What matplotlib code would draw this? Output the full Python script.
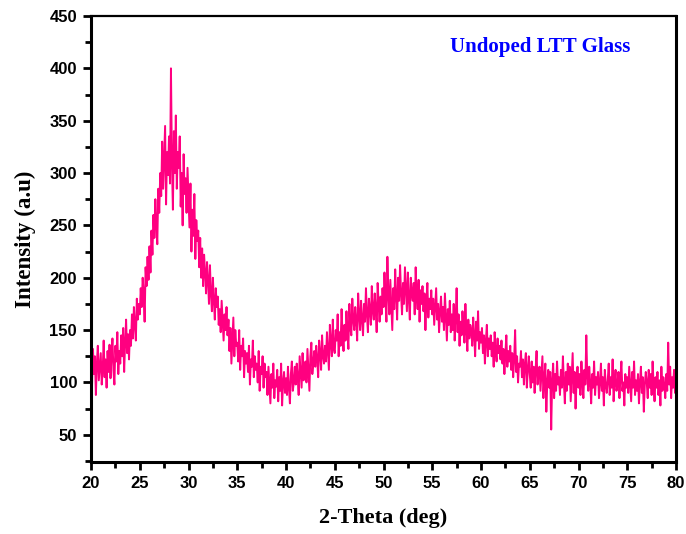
import matplotlib
matplotlib.use("Agg")
import matplotlib.pyplot as plt
import numpy as np
from matplotlib.ticker import MultipleLocator

# 2-theta grid, 0.1 deg steps from 20 to 80
two_theta = np.round(np.arange(20.0, 80.05, 0.1), 1)

# intensity, one row per degree
intensity = [
    120, 95, 132, 108, 125, 88, 118, 135, 102, 115,
    128, 98, 112, 140, 105, 122, 95, 130, 110, 136,
    104, 125, 142, 112, 98, 135, 120, 148, 108, 130,
    118, 145, 125, 152, 110, 138, 160, 128, 146, 122,
    150, 135, 165, 142, 172, 155, 140, 180, 160, 175,
    165, 190, 172, 200, 185, 158, 210, 192, 220, 198,
    230, 205, 245, 222, 260, 238, 275, 250, 232, 285,
    262, 300, 278, 330, 285, 315, 345, 270, 320, 298,
    335, 290, 400, 310, 265, 340, 300, 355, 285, 320,
    305, 335, 268, 300, 250, 318, 280, 295, 262, 305,
    275, 248, 290, 225, 265, 240, 280, 218, 255, 235,
    245, 210, 238, 200, 228, 192, 222, 205, 185, 215,
    198, 175, 212, 185, 168, 200, 178, 160, 190, 172,
    182, 155, 170, 148, 178, 160, 140, 165, 150, 172,
    145, 160, 130, 152, 118, 140, 162, 125, 150, 135,
    138, 120, 150, 112, 135, 125, 142, 105, 130, 118,
    128, 110, 135, 98, 122, 115, 140, 105, 125, 112,
    118, 100, 130, 92, 115, 108, 125, 95, 118, 105,
    110, 88, 115, 98, 80, 108, 95, 118, 85, 102,
    96, 112, 82, 105, 92, 118, 78, 100, 110, 90,
    104, 88, 115, 95, 80, 108, 120, 92, 100, 115,
    98, 118, 105, 88, 125, 110, 95, 128, 102, 115,
    120, 100, 132, 112, 92, 125, 138, 108, 118, 130,
    115, 135, 122, 105, 140, 128, 112, 145, 125, 118,
    135, 120, 148, 130, 112, 155, 138, 125, 160, 132,
    128, 150, 140, 165, 125, 148, 135, 170, 145, 130,
    155, 140, 168, 148, 132, 175, 152, 145, 180, 160,
    150, 172, 158, 140, 185, 165, 150, 178, 160, 145,
    175, 158, 190, 165, 148, 180, 170, 155, 192, 168,
    160, 185, 170, 148, 195, 175, 158, 182, 165, 190,
    172, 205, 180, 158, 220, 185, 165, 198, 175, 150,
    190, 170, 208, 182, 160, 200, 178, 212, 185, 165,
    195, 175, 210, 188, 168, 205, 180, 160, 200, 185,
    178, 195, 165, 210, 182, 170, 198, 158, 188, 175,
    192, 168, 185, 150, 178, 195, 162, 180, 170, 188,
    165, 180, 155, 172, 190, 160, 175, 148, 168, 182,
    158, 172, 150, 185, 162, 140, 170, 155, 178, 148,
    165, 150, 175, 140, 160, 190, 148, 165, 135, 158,
    145, 168, 152, 138, 175, 150, 130, 160, 142, 155,
    150, 135, 162, 145, 125, 158, 140, 168, 132, 148,
    138, 152, 128, 145, 118, 140, 155, 125, 142, 132,
    145, 125, 138, 115, 148, 130, 120, 142, 128, 135,
    122, 140, 118, 132, 108, 128, 145, 115, 130, 120,
    135, 112, 128, 105, 122, 150, 110, 125, 100, 118,
    115, 130, 105, 122, 98, 118, 128, 95, 112, 125,
    108, 95, 120, 100, 115, 90, 112, 130, 98, 110,
    115, 92, 108, 125, 85, 105, 118, 72, 100, 112,
    95, 110, 55, 102, 118, 85, 108, 92, 120, 98,
    105, 88, 112, 95, 125, 100, 80, 110, 92, 118,
    98, 115, 82, 105, 128, 90, 110, 75, 102, 115,
    95, 108, 88, 120, 100, 85, 112, 98, 145, 105,
    92, 115, 100, 80, 108, 95, 120, 88, 105, 98,
    110, 85, 100, 118, 92, 105, 78, 112, 98, 90,
    102, 118, 88, 105, 95, 122, 82, 100, 112, 92,
    98, 110, 85, 105, 120, 92, 100, 78, 108, 95,
    105, 90, 115, 98, 82, 110, 95, 120, 88, 102,
    92, 108, 80, 100, 115, 90, 105, 72, 98, 110,
    100, 85, 112, 95, 108, 88, 120, 98, 82, 105,
    95, 110, 88, 102, 78, 115, 92, 105, 98, 85,
    108, 92, 138, 98, 115, 85, 105, 95, 112, 90,
    100,
]

sample_label = "Undoped LTT Glass"

fig = plt.figure(figsize=(6.86, 5.34), dpi=100)
ax = fig.add_axes([91 / 686, 1 - 462 / 534, 585 / 686, 446 / 534])

ax.plot(two_theta, intensity, color="#ff0080", linewidth=1.4)

ax.set_xlim(20, 80)
ax.set_ylim(24, 450)
ax.xaxis.set_major_locator(MultipleLocator(5))
ax.xaxis.set_minor_locator(MultipleLocator(2.5))
ax.yaxis.set_major_locator(MultipleLocator(50))
ax.yaxis.set_minor_locator(MultipleLocator(25))
ax.set_yticks(np.arange(50, 451, 50))

ax.tick_params(which="major", direction="out", length=6, width=2,
               top=False, right=False, pad=4)
ax.tick_params(which="minor", direction="out", length=4, width=2,
               top=False, right=False)
for lab in ax.get_xticklabels() + ax.get_yticklabels():
    lab.set_family("Liberation Sans")
    lab.set_fontweight("bold")
    lab.set_fontsize(12)

ax.spines["left"].set_linewidth(2.2)
ax.spines["bottom"].set_linewidth(2.2)
ax.spines["right"].set_linewidth(2.2)
ax.spines["top"].set_linewidth(1.6)

ax.set_xlabel("2-Theta (deg)", family="Liberation Serif", fontweight="bold",
              fontsize=16, labelpad=12)
ax.set_ylabel("Intensity (a.u)", family="Liberation Serif", fontweight="bold",
              fontsize=16.5, labelpad=10)

ax.text(0.768, 0.93, sample_label, transform=ax.transAxes, ha="center",
        va="center", color="#0000ff", family="Liberation Serif",
        fontweight="bold", fontsize=15)

fig.savefig("out.png", dpi=100)
